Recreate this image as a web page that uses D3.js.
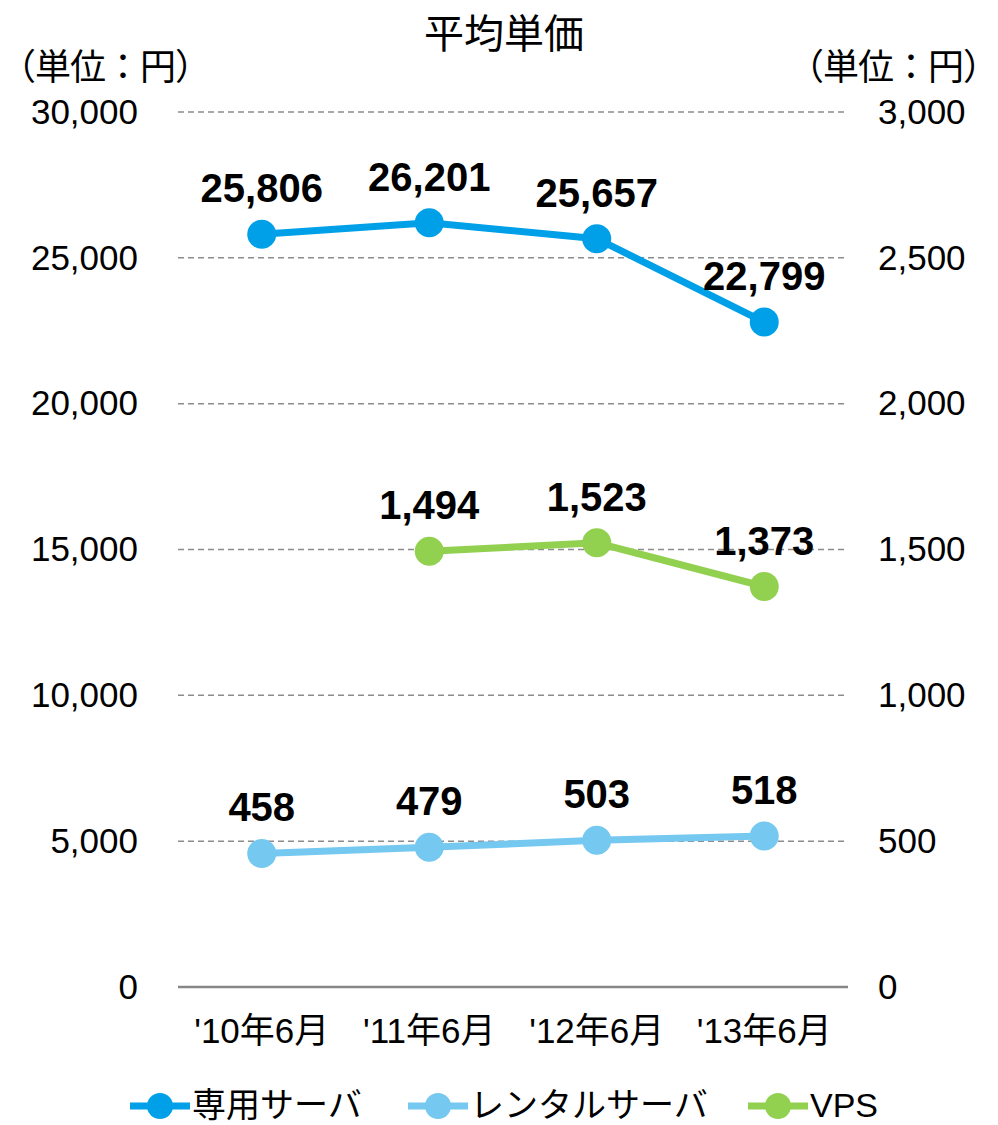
<!DOCTYPE html>
<html>
<head>
<meta charset="utf-8">
<script src="https://cdn.jsdelivr.net/npm/d3@7"></script>
<style>
  body { margin: 0; background: #fff; }
  text { font-family: "Liberation Sans", Arial, "Noto Sans CJK JP", sans-serif; fill: #000; }
</style>
</head>
<body>
<div id="chart"></div>
<script>
// data
var periods = ["'10年6月", "'11年6月", "'12年6月", "'13年6月"];
var dedicated = [25806, 26201, 25657, 22799];   // left axis
var rental = [458, 479, 503, 518];               // right axis
var vps = [null, 1494, 1523, 1373];              // right axis
var leftTicks = [0, 5000, 10000, 15000, 20000, 25000, 30000];
var rightTicks = [0, 500, 1000, 1500, 2000, 2500, 3000];
var seriesNames = ["専用サーバ", "レンタルサーバ", "VPS"];
var colors = ["#00a0e9", "#75c8f0", "#92d050"];

var w = 998, h = 1125;
var plotL = 178, plotR = 848, plotT = 112, plotB = 987;

var svg = d3.select("#chart").append("svg")
  .attr("width", w).attr("height", h);

var x = d3.scaleBand().domain(periods).range([plotL, plotR]);
var yL = d3.scaleLinear().domain([0, 30000]).range([plotB, plotT]);
var yR = d3.scaleLinear().domain([0, 3000]).range([plotB, plotT]);
var fmt = d3.format(",");

// title
svg.append("text").attr("x", 504).attr("y", 48)
  .attr("text-anchor", "middle").style("font-size", "40px")
  .text("平均単価");
// units (full-width brackets carry blank space, so tighten a bit)
svg.append("text").attr("x", 0).attr("y", 80).style("font-size", "36px")
  .style("letter-spacing", "-1px").text("（単位：円）");
svg.append("text").attr("x", 998).attr("y", 80).attr("text-anchor", "end").style("font-size", "36px")
  .style("letter-spacing", "-1px").text("（単位：円）");

// grid lines
svg.append("g").selectAll("line")
  .data(leftTicks.filter(function(d){ return d > 0; }))
  .enter().append("line")
  .attr("x1", plotL).attr("x2", plotR)
  .attr("y1", function(d){ return yL(d); })
  .attr("y2", function(d){ return yL(d); })
  .attr("stroke", "#8c8c8c").attr("stroke-width", 1.5)
  .attr("stroke-dasharray", "6,4");

// base line
svg.append("line").attr("x1", plotL).attr("x2", plotR)
  .attr("y1", yL(0)).attr("y2", yL(0))
  .attr("stroke", "#868686").attr("stroke-width", 2.5);

// axes
var axL = svg.append("g").attr("transform", "translate(" + (plotL - 40) + ",0)")
  .call(d3.axisLeft(yL).tickValues(leftTicks).tickFormat(fmt).tickSize(0));
var axR = svg.append("g").attr("transform", "translate(" + (plotR + 30) + ",0)")
  .call(d3.axisRight(yR).tickValues(rightTicks).tickFormat(fmt).tickSize(0));
var axX = svg.append("g").attr("transform", "translate(0," + (plotB + 23) + ")")
  .call(d3.axisBottom(x).tickSize(0));
[axL, axR, axX].forEach(function(a){
  a.select(".domain").remove();
  a.selectAll("text").style("font-size", "35px").style("font-family", "\"Liberation Sans\", Arial, \"Noto Sans CJK JP\", sans-serif").attr("fill", "#000");
});
axL.selectAll("text").attr("x", 0);
axR.selectAll("text").attr("x", 0);
axX.selectAll("text").attr("dy", "0.85em");

function cx(i){ return x(periods[i]) + x.bandwidth() / 2; }

function drawSeries(vals, yScale, color){
  var pts = vals.map(function(v, i){ return {v: v, i: i}; })
    .filter(function(d){ return d.v !== null; });
  var line = d3.line()
    .x(function(d){ return cx(d.i); })
    .y(function(d){ return yScale(d.v); });
  svg.append("path").datum(pts).attr("d", line)
    .attr("fill", "none").attr("stroke", color).attr("stroke-width", 7);
  svg.append("g").selectAll("circle").data(pts).enter().append("circle")
    .attr("cx", function(d){ return cx(d.i); })
    .attr("cy", function(d){ return yScale(d.v); })
    .attr("r", 14.5).attr("fill", color);
  svg.append("g").selectAll("text").data(pts).enter().append("text")
    .attr("x", function(d){ return cx(d.i); })
    .attr("y", function(d){ return yScale(d.v) - 32; })
    .attr("text-anchor", "middle")
    .style("font-size", "40px").style("font-weight", "bold")
    .text(function(d){ return fmt(d.v); });
}

drawSeries(dedicated, yL, colors[0]);
drawSeries(rental, yR, colors[1]);
drawSeries(vps, yR, colors[2]);

// legend
var legX = [130, 408, 748];
var lg = svg.append("g");
seriesNames.forEach(function(n, i){
  var g = lg.append("g").attr("transform", "translate(" + legX[i] + ",1106)");
  g.append("line").attr("x1", 0).attr("x2", 60).attr("y1", 0).attr("y2", 0)
    .attr("stroke", colors[i]).attr("stroke-width", 7);
  g.append("circle").attr("cx", 30).attr("cy", 0).attr("r", 13).attr("fill", colors[i]);
  g.append("text").attr("x", 62).attr("y", 11).style("font-size", "34px").text(n);
});
</script>
</body>
</html>
